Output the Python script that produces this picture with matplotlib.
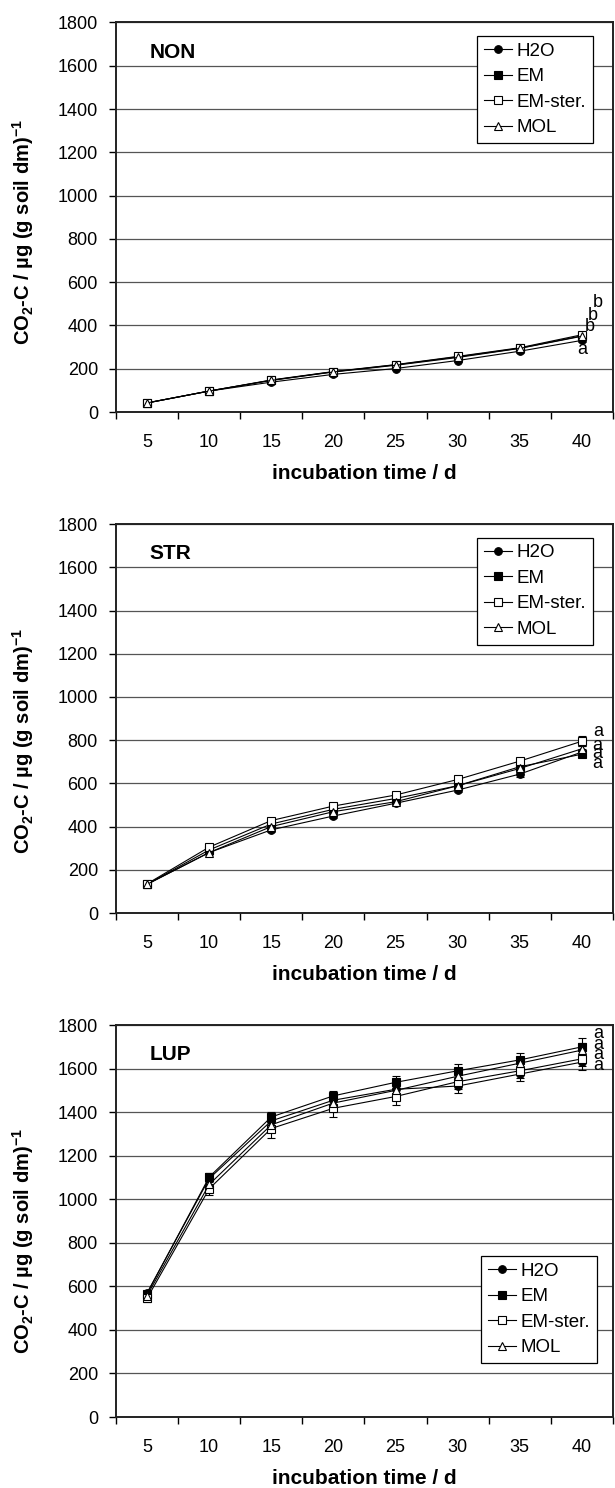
import matplotlib
matplotlib.use("Agg")
import matplotlib.pyplot as plt
from matplotlib.ticker import FixedLocator

plt.rcParams['font.family'] = ['Liberation Sans', 'DejaVu Sans']
plt.rcParams['mathtext.fontset'] = 'custom'
plt.rcParams['mathtext.rm'] = 'Liberation Sans'
plt.rcParams['mathtext.bf'] = 'Liberation Sans:bold'

# incubation days (categories)
days = ['5', '10', '15', '20', '25', '30', '35', '40']
series_names = ['H2O', 'EM', 'EM-ster.', 'MOL']

# cumulative CO2-C, µg (g soil dm)^-1
non_h2o = [42, 97, 138, 174, 201, 238, 281, 331]
non_em = [42, 97, 147, 186, 218, 255, 295, 352]
non_emster = [42, 97, 148, 187, 219, 257, 297, 357]
non_mol = [42, 97, 146, 185, 216, 252, 294, 350]
non_err = [3, 4, 5, 5, 5, 5, 6, 6]

str_h2o = [133, 280, 385, 449, 508, 569, 643, 745]
str_em = [133, 292, 412, 480, 530, 589, 677, 735]
str_emster = [135, 305, 428, 495, 546, 618, 703, 795]
str_mol = [133, 280, 400, 469, 515, 589, 669, 760]
str_err = [5, 8, 10, 10, 10, 10, 12, 15]
str_err_emster = [5, 8, 10, 10, 10, 12, 12, 22]

lup_h2o = [570, 1095, 1360, 1455, 1505, 1520, 1575, 1630]
lup_em = [567, 1102, 1378, 1475, 1537, 1590, 1640, 1700]
lup_emster = [545, 1048, 1325, 1418, 1472, 1540, 1590, 1645]
lup_mol = [558, 1068, 1342, 1442, 1500, 1565, 1625, 1685]
lup_err_h2o = [10, 25, 30, 30, 30, 30, 30, 35]
lup_err_em = [10, 20, 25, 20, 30, 30, 30, 40]
lup_err_emster = [15, 30, 45, 40, 40, 35, 35, 35]
lup_err_mol = [10, 25, 30, 30, 30, 30, 30, 35]

# significance letters at day 40: (x, y, letter)
non_letters = [(7.0, 287, 'a'), (7.13, 393, 'b'), (7.18, 448, 'b'), (7.26, 508, 'b')]
str_letters = [(7.24, 694, 'a'), (7.24, 740, 'a'), (7.24, 777, 'a'), (7.27, 838, 'a')]
lup_letters = [(7.26, 1616, 'a'), (7.26, 1667, 'a'), (7.26, 1713, 'a'), (7.26, 1763, 'a')]

styles = [
    dict(marker='o', mfc='black', mec='black'),
    dict(marker='s', mfc='black', mec='black'),
    dict(marker='s', mfc='white', mec='black'),
    dict(marker='^', mfc='white', mec='black'),
]

panels = [
    ('NON', [non_h2o, non_em, non_emster, non_mol],
     [non_err] * 4, non_letters, 'upper right', (0.96, 0.965),
     [0.1886, 0.7231, 0.808, 0.2618], 0.462),
    ('STR', [str_h2o, str_em, str_emster, str_mol],
     [str_err, str_err, str_err_emster, str_err], str_letters, 'upper right', (0.96, 0.965),
     [0.1886, 0.3864, 0.808, 0.2614], 0.442),
    ('LUP', [lup_h2o, lup_em, lup_emster, lup_mol],
     [lup_err_h2o, lup_err_em, lup_err_emster, lup_err_mol], lup_letters, 'lower right', (0.968, 0.138),
     [0.1886, 0.0477, 0.808, 0.2634], 0.45),
]

fig = plt.figure(figsize=(6.15, 14.88), dpi=100)

for title, values, errors, letters, loc, anchor, rect, ylab_y in panels:
    ax = fig.add_axes(rect)
    x = list(range(len(days)))
    handles = []
    for name, vals, err, st in zip(series_names, values, errors, styles):
        cont = ax.errorbar(x, vals, yerr=err, color='black', lw=0.8, elinewidth=0.8,
                           capsize=3, capthick=0.8, ms=5.5, mew=0.8, label=name, **st)
        handles.append(cont.lines[0])

    ax.set_xlim(-0.5, 7.5)
    ax.set_ylim(0, 1800)
    ax.set_yticks(range(0, 1801, 200))
    ax.set_xticks(x)
    ax.set_xticklabels(days)
    ax.xaxis.set_minor_locator(FixedLocator([i - 0.5 for i in range(9)]))
    ax.tick_params(axis='x', which='major', length=0, pad=16, labelsize=13)
    ax.tick_params(axis='x', which='minor', length=5, width=1, direction='out')
    ax.tick_params(axis='y', length=5, width=1, direction='out', pad=8, labelsize=13)
    ax.grid(axis='y', color='#555555', lw=0.9)
    ax.set_axisbelow(True)
    for sp in ax.spines.values():
        sp.set_color('#222222')
        sp.set_linewidth(1.4)

    ax.text(0.068, 0.924, title, transform=ax.transAxes, fontsize=15,
            fontweight='bold', ha='left', va='center')
    for lx, ly, lt in letters:
        ax.text(lx, ly, lt, fontsize=13, ha='center', va='center', clip_on=False)

    leg = ax.legend(handles, series_names, loc=loc, bbox_to_anchor=anchor, fontsize=13.5,
                    frameon=True, fancybox=False, edgecolor='black', framealpha=1,
                    handlelength=1.5, handletextpad=0.25, labelspacing=0.45,
                    borderpad=0.35, borderaxespad=0)
    leg.get_frame().set_linewidth(0.9)

    ax.set_xlabel('incubation time / d', fontsize=15, fontweight='bold', va='center')
    ax.xaxis.set_label_coords(0.5, -0.158)
    ax.set_ylabel(r'CO$_\mathbf{2}$-C / µg (g soil dm)$^{\mathbf{-1}}$',
                  fontsize=14.5, fontweight='bold')
    ax.yaxis.set_label_coords(-0.161, ylab_y)

fig.savefig('out.png', dpi=100, facecolor='white')
